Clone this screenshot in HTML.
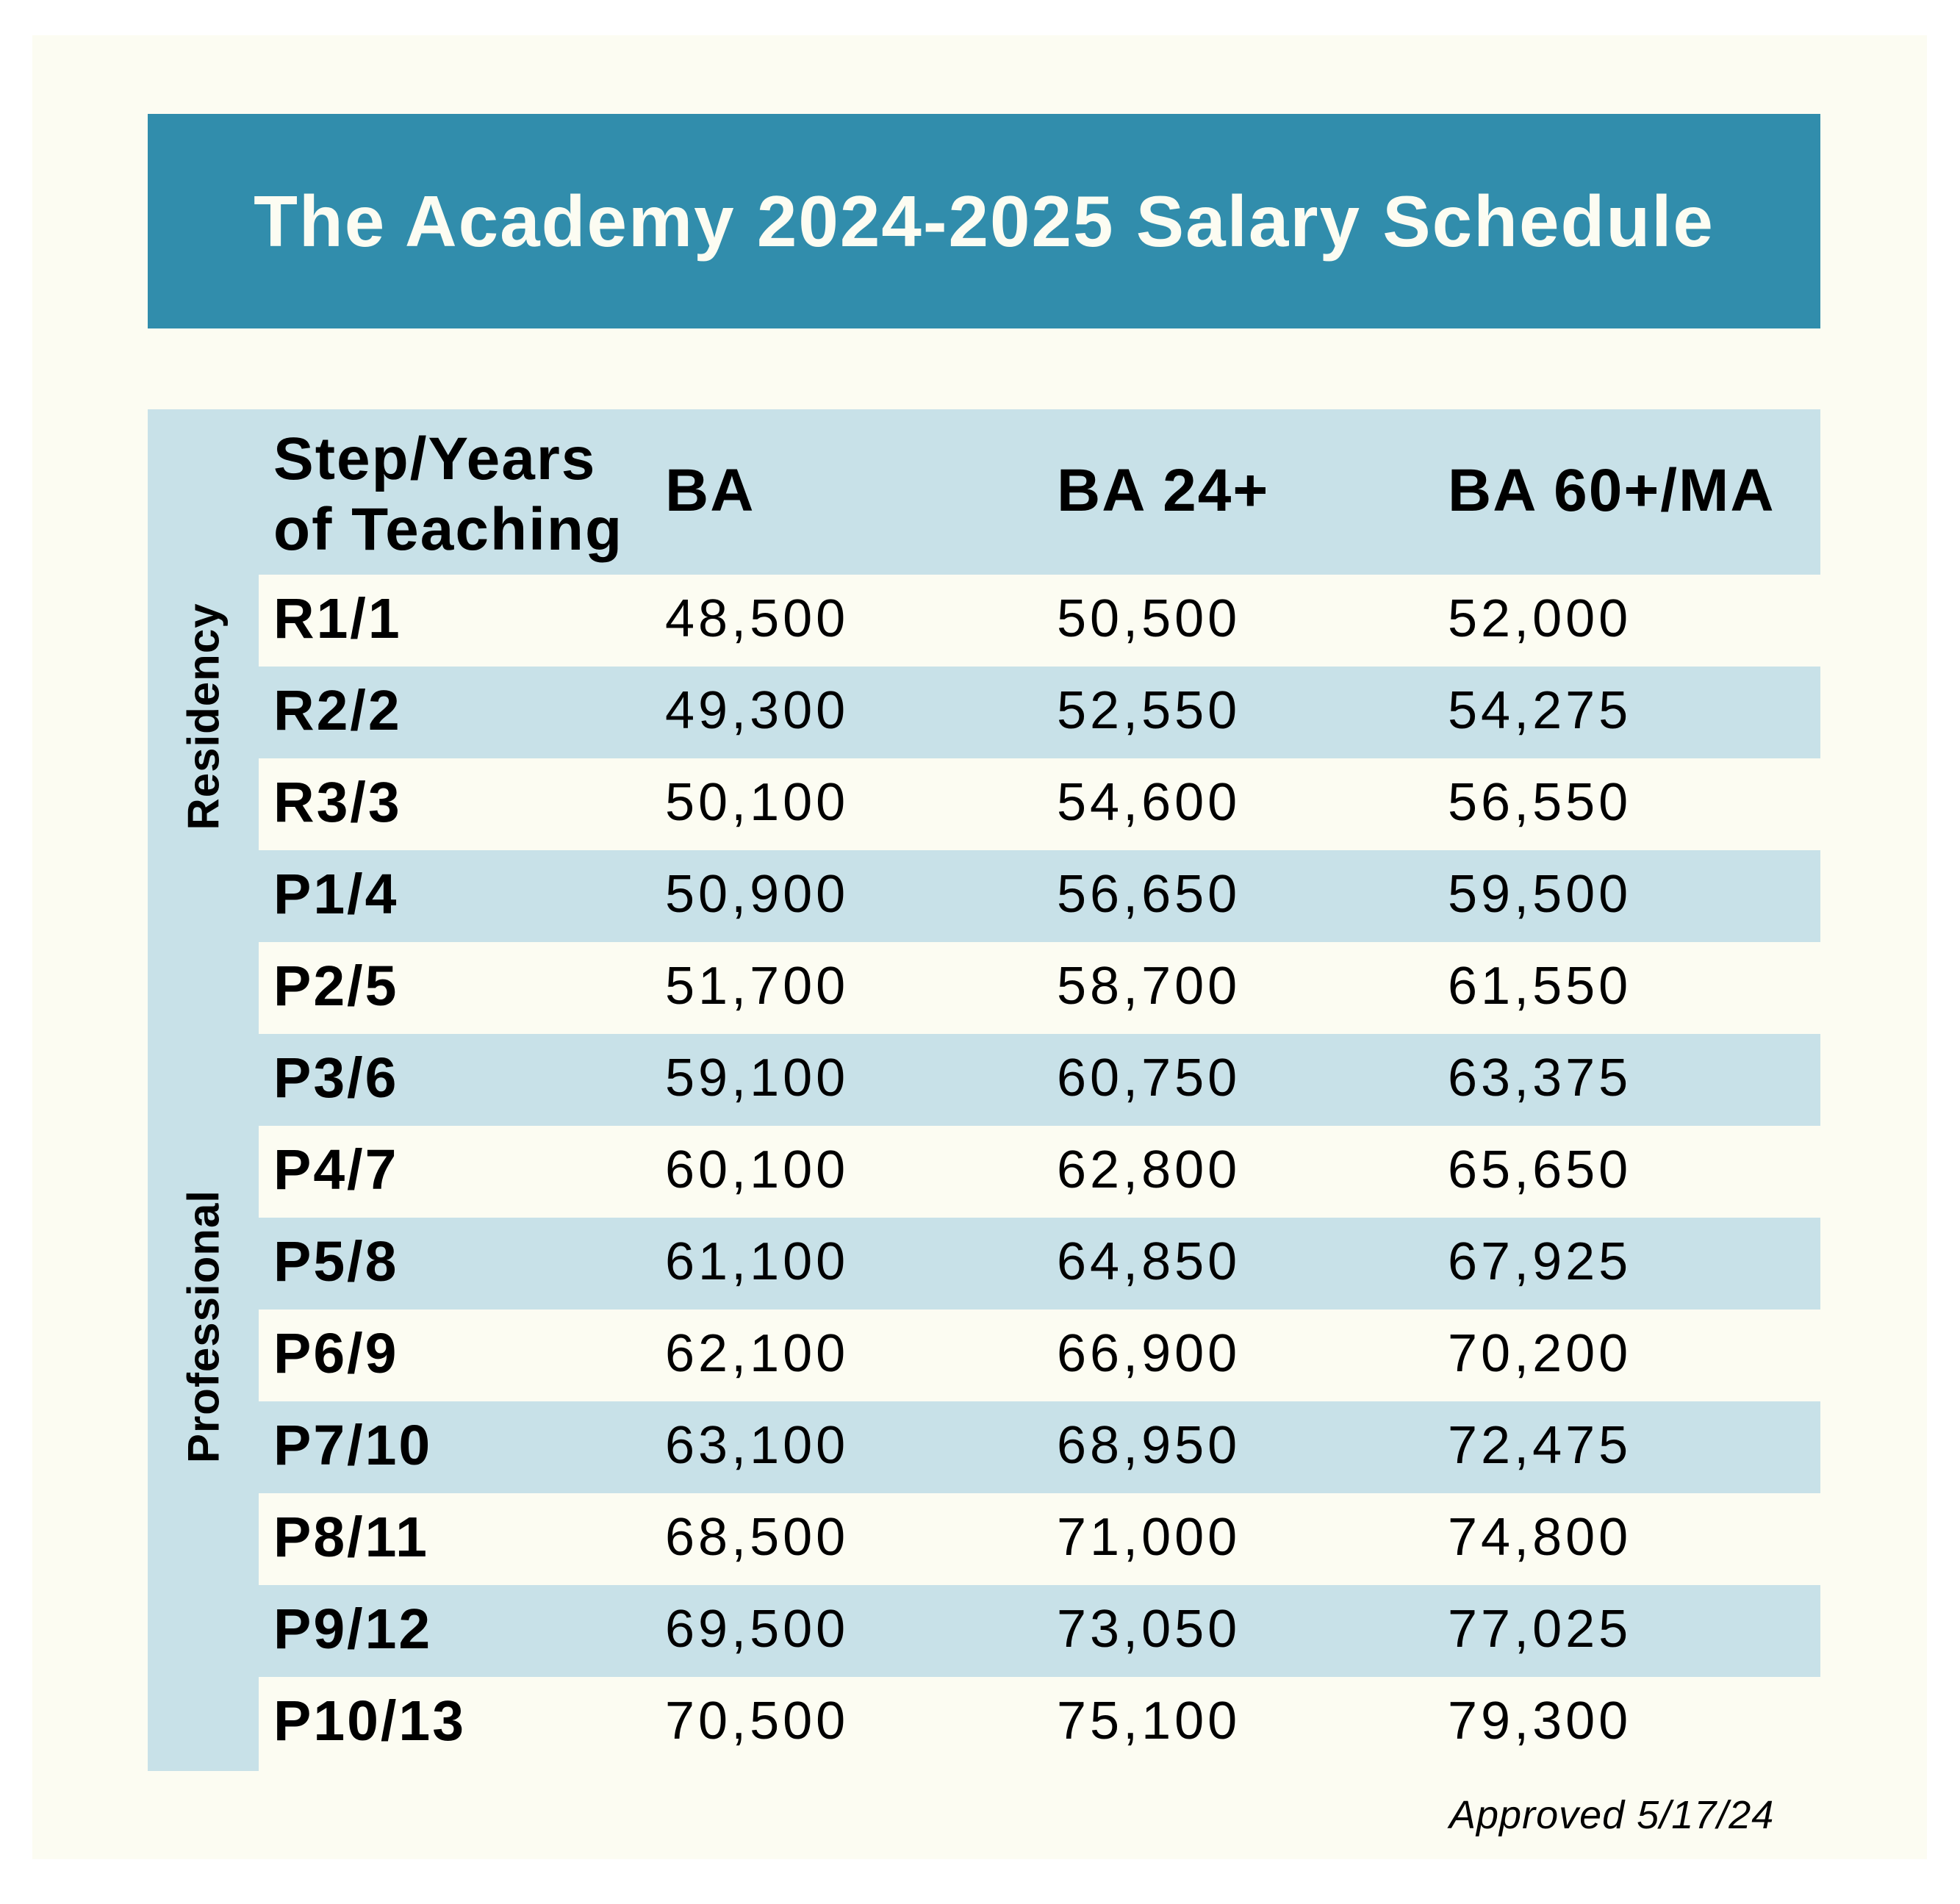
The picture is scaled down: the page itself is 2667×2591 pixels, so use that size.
<!DOCTYPE html>
<html><head><style>
body{margin:0;width:2667px;height:2591px;background:#fff;position:relative;font-family:"Liberation Sans",sans-serif;overflow:hidden}
div{position:absolute;box-sizing:border-box}
.cream{left:44px;top:48px;width:2578px;height:2482px;background:#fcfcf2}
.banner{left:201px;top:155px;width:2276px;height:292px;background:#318dac;color:#fcfcf2;font-weight:bold;font-size:98px;letter-spacing:2px;text-align:center;line-height:292px}
.row{left:352px;width:2125px;height:125px;line-height:125px;font-size:72px;color:#000;letter-spacing:5px}
.row span{position:absolute;top:-2px}
.row .l{font-weight:bold;font-size:77px;left:20px;letter-spacing:3px}
.blue{background:#c8e1e8}
.h{font-weight:bold;font-size:82px;line-height:96px;letter-spacing:2px}
</style></head><body>
<div class="cream"></div>
<div class="banner">The Academy 2024-2025 Salary Schedule</div>
<div style="left:201px;top:557px;width:2276px;height:225px;background:#c8e1e8"></div>
<div style="left:201px;top:557px;width:151px;height:1853px;background:#c8e1e8"></div>
<div class="h" style="left:372px;top:577px">Step/Years<br>of Teaching</div>
<div class="h" style="left:905px;top:620px">BA</div>
<div class="h" style="left:1438px;top:620px">BA 24+</div>
<div class="h" style="left:1970px;top:620px">BA 60+/MA</div>
<div style="left:277px;top:975px;font-weight:bold;font-size:60px;transform:translate(-50%,-50%) rotate(-90deg);white-space:nowrap;letter-spacing:1px">Residency</div>
<div style="left:277px;top:1805px;font-weight:bold;font-size:60px;transform:translate(-50%,-50%) rotate(-90deg);white-space:nowrap;letter-spacing:1px">Professional</div>

<div class="row" style="top:782px"><span class="l">R1/1</span><span style="left:553px">48,500</span><span style="left:1086px">50,500</span><span style="left:1618px">52,000</span></div>
<div class="row blue" style="top:907px"><span class="l">R2/2</span><span style="left:553px">49,300</span><span style="left:1086px">52,550</span><span style="left:1618px">54,275</span></div>
<div class="row" style="top:1032px"><span class="l">R3/3</span><span style="left:553px">50,100</span><span style="left:1086px">54,600</span><span style="left:1618px">56,550</span></div>
<div class="row blue" style="top:1157px"><span class="l">P1/4</span><span style="left:553px">50,900</span><span style="left:1086px">56,650</span><span style="left:1618px">59,500</span></div>
<div class="row" style="top:1282px"><span class="l">P2/5</span><span style="left:553px">51,700</span><span style="left:1086px">58,700</span><span style="left:1618px">61,550</span></div>
<div class="row blue" style="top:1407px"><span class="l">P3/6</span><span style="left:553px">59,100</span><span style="left:1086px">60,750</span><span style="left:1618px">63,375</span></div>
<div class="row" style="top:1532px"><span class="l">P4/7</span><span style="left:553px">60,100</span><span style="left:1086px">62,800</span><span style="left:1618px">65,650</span></div>
<div class="row blue" style="top:1657px"><span class="l">P5/8</span><span style="left:553px">61,100</span><span style="left:1086px">64,850</span><span style="left:1618px">67,925</span></div>
<div class="row" style="top:1782px"><span class="l">P6/9</span><span style="left:553px">62,100</span><span style="left:1086px">66,900</span><span style="left:1618px">70,200</span></div>
<div class="row blue" style="top:1907px"><span class="l">P7/10</span><span style="left:553px">63,100</span><span style="left:1086px">68,950</span><span style="left:1618px">72,475</span></div>
<div class="row" style="top:2032px"><span class="l">P8/11</span><span style="left:553px">68,500</span><span style="left:1086px">71,000</span><span style="left:1618px">74,800</span></div>
<div class="row blue" style="top:2157px"><span class="l">P9/12</span><span style="left:553px">69,500</span><span style="left:1086px">73,050</span><span style="left:1618px">77,025</span></div>
<div class="row" style="top:2282px"><span class="l">P10/13</span><span style="left:553px">70,500</span><span style="left:1086px">75,100</span><span style="left:1618px">79,300</span></div>

<div style="left:1972px;top:2440px;font-style:italic;font-size:54px;line-height:60px;letter-spacing:1px">Approved 5/17/24</div>
</body></html>
